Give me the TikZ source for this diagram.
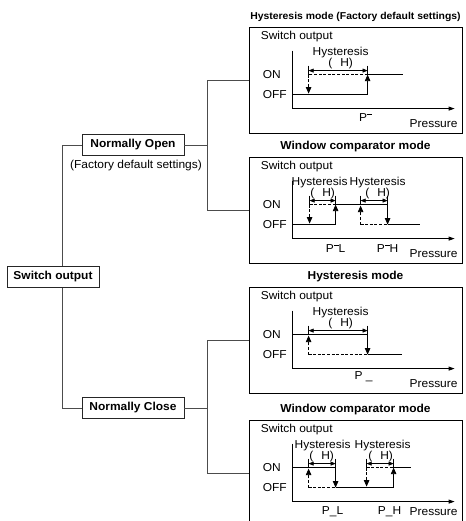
\documentclass[tikz,border=0pt]{standalone}
\usepackage{fontspec}
\setmainfont{Liberation Sans}[FakeStretch=1.04]
\usetikzlibrary{arrows.meta,positioning,calc}

% short overbar after P
\newcommand\ovbar{\rule[0.66em]{0.42em}{0.5pt}}
% axes and fixed labels of one chart (#2: height of the Pressure label)
\newcommand\chartaxes[2]{%
  \node[lbl, anchor=west] (sw#1) at (12,10) {Switch output};
  \node[lbl, anchor=west] (on#1) at (14,48) {ON};
  \node[lbl, anchor=west] (off#1) at (14,68) {OFF};
  \node[lbl] (pr#1) at (185,#2) {Pressure};
  \draw[sig] (44,24) -- (44,82);
  \draw[sig, -{Triangle[length=6pt,width=4pt]}] (44,82) -- (206,82);
}

\begin{document}
\begin{tikzpicture}[x=1pt, y=-1pt,
    every node/.style={font=\fontsize{11.5}{13}\selectfont},
    selbox/.style={draw=black!85, line width=0.8pt, font=\fontsize{11.5}{13}\selectfont\bfseries, minimum height=21pt, inner sep=2pt},
    chart/.style={draw, line width=0.8pt, minimum width=213pt, minimum height=106pt, inner sep=0pt},
    modetitle/.style={font=\fontsize{11.5}{13}\selectfont\bfseries, inner sep=0pt},
    lbl/.style={inner sep=0pt},
    tree/.style={draw=black!70, line width=0.6pt},
    sig/.style={line width=0.8pt},
    hold/.style={sig, dash pattern=on 3pt off 1.6pt},
    tip/.style={-{Triangle[length=6.5pt,width=5.5pt]}},
    tick/.style={line width=0.6pt},
    span/.style={line width=0.6pt, {Triangle[length=5pt,width=4pt]}-{Triangle[length=5pt,width=4pt]}}]
  \useasboundingbox (0,0) rectangle (465,521);

  % selection tree
  \node[selbox, minimum width=92pt] (sw) at (53,277) {Switch output};
  \node[selbox, minimum width=102pt] (no) at (133,145) {Normally Open};
  \node[lbl] (fd) at (136,166) {(Factory default settings)};
  \node[selbox, minimum width=102pt] (nc) at (133,408) {Normally Close};

  % charts
  \node[chart] (b1) at (355.5,80) {};
  \node[chart] (b2) at (355.5,210) {};
  \node[chart] (b3) at (355.5,340) {};
  \node[chart] (b4) at (355.5,473) {};
  \node[modetitle, font=\fontsize{10}{12}\selectfont\bfseries, above=5pt of b1] (t1) {Hysteresis mode (Factory default settings)};
  \node[modetitle, above=5pt of b2] (t2) {Window comparator mode};
  \node[modetitle, above=5pt of b3] (t3) {Hysteresis mode};
  \node[modetitle, above=5pt of b4] (t4) {Window comparator mode};

  \draw[tree] ([xshift=9pt]sw.north) |- (no);
  \draw[tree] ([xshift=9pt]sw.south) |- (nc);
  \draw[tree] (no.east) -- ++(23,0) coordinate (noj);
  \draw[tree] (b1) -| (noj) |- (b2);
  \draw[tree] (nc.east) -- ++(23,0) coordinate (ncj);
  \draw[tree] (b3) -| (ncj) |- (b4);

  % hysteresis, normally open
  \begin{scope}[shift={(b1.north west)}]
    \chartaxes{1}{97}
    \draw[sig] (44,68) -- (119,68);
    \draw[sig, tip] (119,68) -- (119,48);
    \draw[sig] (119,48) -- (154,48);
    \draw[hold] (119,48) -- (60,48);
    \draw[hold, tip] (60,48) -- (60,67);
    \draw[tick] (60,39) -- (60,48) (119,39) -- (119,48);
    \draw[span] (60,44) -- (119,44);
    \node[lbl] (hy1) at (92,26) {Hysteresis};
    \node[lbl] (dh1) at (92,37) {(\hspace{0.7em}H)};
    \node[lbl] (p1) at (117,91) {P\ovbar};
  \end{scope}

  % window comparator, normally open
  \begin{scope}[shift={(b2.north west)}]
    \chartaxes{2}{97}
    \draw[sig] (44,68) -- (87,68);
    \draw[sig, tip] (87,68) -- (87,48);
    \draw[sig] (87,48) -- (139,48);
    \draw[sig, tip] (139,48) -- (139,68);
    \draw[sig] (139,68) -- (171,68);
    \draw[hold] (87,48) -- (61,48);
    \draw[hold, tip] (61,48) -- (61,67);
    \draw[hold, tip] (112,68) -- (112,49);
    \draw[hold] (112,68) -- (139,68);
    \draw[tick] (61,39) -- (61,48) (87,39) -- (87,48) (112,39) -- (112,48) (139,39) -- (139,48);
    \draw[span] (61,44) -- (87,44);
    \draw[span] (112,44) -- (139,44);
    \node[lbl] (hy2a) at (71,26) {Hysteresis};
    \node[lbl] (hy2b) at (129,26) {Hysteresis};
    \node[lbl] (dh2a) at (74,37) {(\hspace{0.7em}H)};
    \node[lbl] (dh2b) at (129,37) {(\hspace{0.7em}H)};
    \node[lbl] (p2a) at (87,92) {P\ovbar L};
    \node[lbl] (p2b) at (139,92) {P\ovbar H};
  \end{scope}

  % hysteresis, normally close
  \begin{scope}[shift={(b3.north west)}]
    \chartaxes{3}{97}
    \draw[sig] (44,48) -- (119,48);
    \draw[sig, tip] (119,48) -- (119,68);
    \draw[sig] (119,68) -- (153,68);
    \draw[hold, tip] (60,68) -- (60,49);
    \draw[hold] (60,68) -- (119,68);
    \draw[tick] (60,39) -- (60,48) (119,39) -- (119,48);
    \draw[span] (60,44) -- (119,44);
    \node[lbl] (hy3) at (92,26) {Hysteresis};
    \node[lbl] (dh3) at (92,37) {(\hspace{0.7em}H)};
    \node[lbl] (p3) at (115,90) {P \_};
  \end{scope}

  % window comparator, normally close
  \begin{scope}[shift={(b4.north west)}]
    \chartaxes{4}{92}
    \draw[sig] (44,48) -- (87,48);
    \draw[sig, tip] (87,48) -- (87,68);
    \draw[sig] (87,68) -- (145,68);
    \draw[sig, tip] (145,68) -- (145,48);
    \draw[sig] (145,48) -- (162,48);
    \draw[hold, tip] (60,68) -- (60,49);
    \draw[hold] (60,68) -- (87,68);
    \draw[hold] (118,48) -- (145,48);
    \draw[hold, tip] (118,48) -- (118,67);
    \draw[tick] (60,39) -- (60,48) (87,39) -- (87,48) (118,39) -- (118,48) (145,39) -- (145,48);
    \draw[span] (60,44) -- (87,44);
    \draw[span] (118,44) -- (145,44);
    \node[lbl] (hy4a) at (74,26) {Hysteresis};
    \node[lbl] (hy4b) at (134,26) {Hysteresis};
    \node[lbl] (dh4a) at (73,37) {(\hspace{0.7em}H)};
    \node[lbl] (dh4b) at (132,37) {(\hspace{0.7em}H)};
    \node[lbl] (p4a) at (84,92) {P\_L};
    \node[lbl] (p4b) at (141,92) {P\_H};
  \end{scope}
\end{tikzpicture}
\end{document}
